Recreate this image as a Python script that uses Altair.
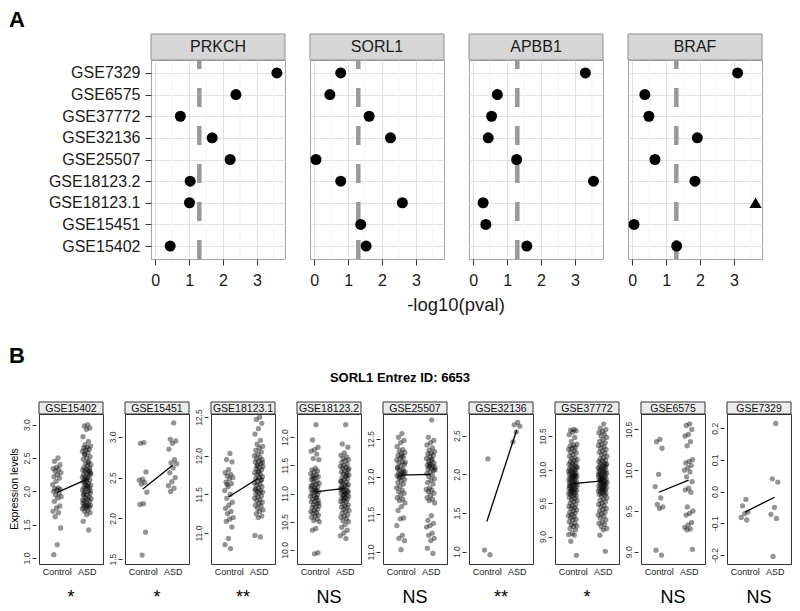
import altair as alt
import pandas as pd

# ---------------- Panel A data ----------------
datasets_a = ["GSE7329", "GSE6575", "GSE37772", "GSE32136", "GSE25507",
              "GSE18123.2", "GSE18123.1", "GSE15451", "GSE15402"]
genes_a = ["PRKCH", "SORL1", "APBB1", "BRAF"]
prkch = [3.59, 2.38, 0.74, 1.68, 2.21, 1.03, 1.01, None, 0.44]
sorl1 = [0.78, 0.46, 1.62, 2.25, 0.05, 0.78, 2.60, 1.37, 1.53]
apbb1 = [3.31, 0.71, 0.54, 0.44, 1.28, 3.55, 0.29, 0.37, 1.58]
braf = [3.11, 0.37, 0.49, 1.92, 0.67, 1.85, None, 0.05, 1.31]
capped_gene = ["BRAF"]
capped_dataset = ["GSE18123.1"]
capped_value = [3.64]
threshold = [1.3]
major_breaks = [0, 1, 2, 3]
minor_breaks = [0.5, 1.5, 2.5, 3.5]
x_title_a = "-log10(pval)"

# ---------------- Panel B data ----------------
b_title = "SORL1 Entrez ID: 6653"
b_datasets = ["GSE15402", "GSE15451", "GSE18123.1", "GSE18123.2", "GSE25507",
              "GSE32136", "GSE37772", "GSE6575", "GSE7329"]
b_sig = ["*", "*", "**", "NS", "NS", "**", "*", "NS", "NS"]
b_mean_control = [1.98, 2.36, 11.47, 11.03, 12.02, 1.39, 9.79, 9.73, -0.065]
b_mean_asd = [2.18, 2.65, 11.71, 11.09, 12.03, 2.57, 9.83, 9.88, -0.018]
b_domains = [[0.91, 3.16], [1.44, 3.28], [10.6, 12.54], [9.75, 12.41], [10.84, 12.83],
             [0.84, 2.78], [8.59, 10.83], [8.85, 10.69], [-0.229, 0.245]]
b_ticks = [[1.0, 1.5, 2.0, 2.5, 3.0], [1.5, 2.0, 2.5, 3.0], [11.0, 11.5, 12.0, 12.5],
           [10.0, 10.5, 11.0, 11.5, 12.0], [11.0, 11.5, 12.0, 12.5], [1.0, 1.5, 2.0, 2.5],
           [9.0, 9.5, 10.0, 10.5], [9.0, 9.5, 10.0, 10.5], [-0.2, -0.1, 0.0, 0.1, 0.2]]

gse15402_control = [2.50, 2.45, 2.40, 2.36, 2.34, 2.33, 2.30, 2.28, 2.25, 2.22, 2.20, 2.15, 2.10,
                    2.05, 2.04, 2.03, 2.02, 2.00, 1.97, 1.95, 1.92, 1.90, 1.85, 1.78, 1.75, 1.70,
                    1.68, 1.62, 1.45, 1.20, 1.05]
gse15402_asd = [3.00, 2.98, 2.95, 2.93, 2.82, 2.75, 2.70, 2.68, 2.66, 2.65, 2.63, 2.62, 2.60, 2.58,
                2.55, 2.52, 2.50, 2.48, 2.45, 2.42, 2.40, 2.38, 2.36, 2.35, 2.33, 2.32, 2.30, 2.30,
                2.28, 2.27, 2.25, 2.24, 2.22, 2.21, 2.20, 2.18, 2.17, 2.15, 2.14, 2.12, 2.10, 2.09,
                2.08, 2.06, 2.05, 2.04, 2.02, 2.00, 1.99, 1.97, 1.95, 1.94, 1.92, 1.90, 1.89, 1.88,
                1.86, 1.85, 1.83, 1.82, 1.80, 1.80, 1.79, 1.78, 1.77, 1.76, 1.75, 1.74, 1.72, 1.70,
                1.68, 1.65, 1.55, 1.42, 2.13, 2.26, 2.07, 1.96, 2.31, 2.19, 1.87, 2.43, 2.56, 2.01]
gse15451_control = [2.93, 2.92, 2.57, 2.48, 2.47, 2.44, 2.42, 2.32, 2.18, 2.17, 1.83, 1.55]
gse15451_asd = [3.17, 2.97, 2.95, 2.92, 2.85, 2.72, 2.68, 2.67, 2.62, 2.56, 2.50, 2.45, 2.40,
                2.37, 2.33]
gse18123_1_control = [12.03, 11.95, 11.92, 11.82, 11.78, 11.76, 11.74, 11.72, 11.70, 11.66, 11.64,
                      11.60, 11.55, 11.50, 11.45, 11.40, 11.36, 11.32, 11.28, 11.25, 11.20, 11.18,
                      11.15, 11.08, 10.93, 10.85, 10.80, 11.63]
gse18123_1_asd = [12.50, 12.47, 12.42, 12.35, 12.28, 12.20, 12.15, 12.12, 12.10, 12.07, 12.05,
                  12.02, 12.00, 11.98, 11.96, 11.95, 11.93, 11.92, 11.90, 11.88, 11.86, 11.85,
                  11.83, 11.82, 11.80, 11.78, 11.76, 11.75, 11.73, 11.72, 11.70, 11.68, 11.66,
                  11.65, 11.63, 11.62, 11.60, 11.58, 11.56, 11.55, 11.54, 11.53, 11.52, 11.50,
                  11.48, 11.47, 11.45, 11.43, 11.42, 11.40, 11.38, 11.36, 11.35, 11.32, 11.30,
                  11.28, 11.25, 11.22, 11.20, 10.97, 10.95, 11.87, 11.91, 11.79, 11.57, 11.69]
gse18123_2_control = [12.22, 11.95, 11.82, 11.78, 11.75, 11.70, 11.62, 11.60, 11.45, 11.42, 11.40,
                      11.38, 11.35, 11.33, 11.31, 11.30, 11.28, 11.25, 11.22, 11.20, 11.18, 11.16,
                      11.15, 11.12, 11.10, 11.08, 11.06, 11.05, 11.03, 11.02, 11.00, 10.98, 10.96,
                      10.95, 10.92, 10.90, 10.88, 10.86, 10.85, 10.82, 10.80, 10.78, 10.76, 10.75,
                      10.72, 10.70, 10.68, 10.66, 10.65, 10.62, 10.60, 10.58, 10.55, 10.52, 10.50,
                      10.38, 10.35, 9.95, 9.93, 11.13, 10.93, 11.27, 10.83, 11.07]
gse18123_2_asd = [12.22, 11.88, 11.82, 11.72, 11.68, 11.65, 11.62, 11.60, 11.58, 11.55, 11.52,
                  11.50, 11.48, 11.46, 11.45, 11.42, 11.40, 11.38, 11.36, 11.35, 11.33, 11.30,
                  11.28, 11.26, 11.25, 11.22, 11.20, 11.18, 11.16, 11.15, 11.13, 11.12, 11.10,
                  11.08, 11.06, 11.05, 11.03, 11.02, 11.00, 10.98, 10.97, 10.95, 10.93, 10.92,
                  10.90, 10.88, 10.86, 10.85, 10.82, 10.80, 10.78, 10.76, 10.75, 10.72, 10.70,
                  10.68, 10.65, 10.62, 10.60, 10.58, 10.55, 10.52, 10.50, 10.45, 10.40, 10.35,
                  10.30, 10.25, 10.20, 11.09, 11.04, 10.99, 11.21, 11.32, 10.91, 11.44]
gse25507_control = [12.57, 12.52, 12.48, 12.45, 12.40, 12.36, 12.34, 12.32, 12.30, 12.28, 12.26,
                    12.24, 12.22, 12.20, 12.18, 12.16, 12.14, 12.12, 12.10, 12.08, 12.06, 12.05,
                    12.04, 12.03, 12.02, 12.01, 12.00, 11.98, 11.96, 11.94, 11.92, 11.90, 11.87,
                    11.85, 11.82, 11.80, 11.78, 11.75, 11.72, 11.70, 11.68, 11.65, 11.60, 11.55,
                    11.45, 11.44, 11.35, 11.22, 11.18, 11.15, 11.03, 12.11, 12.07, 11.99, 12.19,
                    12.27]
gse25507_asd = [12.75, 12.52, 12.48, 12.45, 12.42, 12.38, 12.35, 12.33, 12.31, 12.30, 12.28,
                12.26, 12.24, 12.22, 12.20, 12.18, 12.16, 12.15, 12.14, 12.13, 12.12, 12.11,
                12.10, 12.08, 12.06, 12.04, 12.02, 12.00, 11.97, 11.95, 11.92, 11.90, 11.85,
                11.83, 11.82, 11.80, 11.78, 11.75, 11.72, 11.70, 11.68, 11.65, 11.48, 11.42,
                11.38, 11.35, 11.33, 11.25, 11.22, 11.18, 11.15, 11.05, 10.98, 12.17, 12.09, 12.23]
gse32136_control = [2.20, 1.02, 0.96]
gse32136_asd = [2.67, 2.64, 2.62, 2.55, 2.42]
gse37772_control = [10.60, 10.59, 10.58, 10.56, 10.52, 10.48, 10.42, 10.38, 10.36, 10.35, 10.33,
                    10.32, 10.30, 10.28, 10.26, 10.25, 10.22, 10.20, 10.18, 10.16, 10.15, 10.13,
                    10.12, 10.10, 10.09, 10.08, 10.06, 10.05, 10.04, 10.02, 10.01, 10.00, 9.99,
                    9.98, 9.97, 9.96, 9.95, 9.94, 9.93, 9.92, 9.91, 9.90, 9.89, 9.88, 9.87, 9.86,
                    9.85, 9.84, 9.83, 9.82, 9.81, 9.80, 9.79, 9.78, 9.77, 9.76, 9.75, 9.74, 9.73,
                    9.72, 9.71, 9.70, 9.69, 9.68, 9.67, 9.66, 9.65, 9.64, 9.63, 9.62, 9.61, 9.60,
                    9.58, 9.57, 9.55, 9.54, 9.52, 9.50, 9.48, 9.46, 9.45, 9.43, 9.42, 9.40, 9.38,
                    9.36, 9.35, 9.33, 9.31, 9.30, 9.28, 9.26, 9.25, 9.22, 9.20, 9.18, 9.16, 9.15,
                    9.12, 9.10, 9.05, 9.03, 9.02, 8.93, 8.72, 9.89, 9.76, 9.92, 9.69, 10.03]
gse37772_asd = [10.68, 10.62, 10.60, 10.57, 10.55, 10.53, 10.50, 10.48, 10.45, 10.42, 10.40,
                10.38, 10.36, 10.34, 10.32, 10.30, 10.28, 10.26, 10.24, 10.22, 10.20, 10.18,
                10.16, 10.14, 10.13, 10.12, 10.10, 10.09, 10.08, 10.06, 10.05, 10.04, 10.03,
                10.02, 10.01, 10.00, 9.99, 9.98, 9.97, 9.96, 9.95, 9.94, 9.93, 9.92, 9.91, 9.90,
                9.89, 9.88, 9.87, 9.86, 9.85, 9.84, 9.83, 9.82, 9.81, 9.80, 9.79, 9.78, 9.77,
                9.76, 9.75, 9.74, 9.73, 9.72, 9.71, 9.70, 9.69, 9.68, 9.67, 9.66, 9.65, 9.64,
                9.63, 9.62, 9.60, 9.58, 9.56, 9.54, 9.52, 9.50, 9.48, 9.46, 9.44, 9.42, 9.40,
                9.38, 9.36, 9.34, 9.32, 9.30, 9.28, 9.25, 9.22, 9.20, 9.18, 9.15, 9.12, 9.10,
                9.02, 8.78, 9.87, 9.93, 9.79, 9.84, 10.07, 9.71]
gse6575_control = [10.38, 10.35, 10.27, 9.95, 9.80, 9.66, 9.58, 9.55, 9.53, 9.02, 8.96]
gse6575_asd = [10.57, 10.55, 10.50, 10.44, 10.42, 10.35, 10.30, 10.13, 10.11, 10.09, 10.06, 10.03,
               10.00, 9.98, 9.92, 9.86, 9.78, 9.76, 9.73, 9.55, 9.50, 9.47, 9.45, 9.36, 9.33,
               9.30, 9.28, 9.27, 9.03]
gse7329_control = [-0.025, -0.045, -0.065, -0.070, -0.082, -0.090]
gse7329_asd = [0.215, 0.040, 0.030, -0.050, -0.072, -0.085, -0.205]

b_values = [(gse15402_control, gse15402_asd), (gse15451_control, gse15451_asd),
            (gse18123_1_control, gse18123_1_asd), (gse18123_2_control, gse18123_2_asd),
            (gse25507_control, gse25507_asd), (gse32136_control, gse32136_asd),
            (gse37772_control, gse37772_asd), (gse6575_control, gse6575_asd),
            (gse7329_control, gse7329_asd)]

FONT = "Liberation Sans"

# ---------------- Panel A ----------------
WA, HA = 134, 199
x_scale_a = alt.Scale(domain=[-0.127, 3.83], nice=False, zero=False)
y_scale_a = alt.Scale(type="point", domain=datasets_a, padding=0.6)


def panel_a(gene, vals, first, extra=None):
    df = pd.DataFrame({"dataset": datasets_a, "value": vals}).dropna()
    xaxis = alt.Axis(title=None, values=major_breaks, grid=True, gridColor="#e0e0e0",
                     domain=False, tickSize=6, tickColor="#333333", labelFontSize=16,
                     labelColor="#1a1a1a", labelPadding=7)
    yaxis = alt.Axis(title=None, labels=first, ticks=first, domain=False, grid=True,
                     gridColor="#e0e0e0", tickSize=6, tickColor="#333333",
                     labelFontSize=16, labelColor="#1a1a1a", labelPadding=5)
    minor = alt.Chart(pd.DataFrame({"v": minor_breaks})).mark_rule(
        color="#f2f2f2", strokeWidth=1).encode(x=alt.X("v:Q", scale=x_scale_a, axis=xaxis))
    thr = alt.Chart(pd.DataFrame({"t": threshold})).mark_rule(
        color="#999999", strokeWidth=4.5, strokeDash=[19, 19]).encode(
        x=alt.X("t:Q", scale=x_scale_a, axis=xaxis),
        y=alt.value(HA), y2=alt.value(0))
    pts = alt.Chart(df).mark_point(filled=True, shape="circle", size=121, color="black",
                                   opacity=1).encode(
        x=alt.X("value:Q", scale=x_scale_a, axis=xaxis),
        y=alt.Y("dataset:N", scale=y_scale_a, axis=yaxis, sort=datasets_a))
    layers = [minor, thr, pts]
    cdf = pd.DataFrame({"gene": capped_gene, "dataset": capped_dataset, "value": capped_value})
    cdf = cdf[cdf["gene"] == gene]
    if len(cdf):
        layers.append(alt.Chart(cdf).mark_point(filled=True, shape="triangle-up", size=150,
                                                color="black", opacity=1).encode(
            x=alt.X("value:Q", scale=x_scale_a, axis=xaxis),
            y=alt.Y("dataset:N", scale=y_scale_a, axis=yaxis, sort=datasets_a)))
    lab = pd.DataFrame({"label": [gene]})
    layers.append(alt.Chart(lab).mark_rect(fill="#d6d6d6", stroke="#8f8f8f", strokeWidth=1).encode(
        x=alt.value(0), x2=alt.value(WA), y=alt.value(-26), y2=alt.value(0)))
    layers.append(alt.Chart(lab).mark_text(fontSize=16, color="#1a1a1a", baseline="middle").encode(
        x=alt.value(WA / 2), y=alt.value(-13), text="label:N"))
    if extra:
        layers.extend(extra)
    return alt.layer(*layers).properties(width=WA, height=HA)


tag_a = alt.Chart(pd.DataFrame({"t": ["A"]})).mark_text(
    fontSize=22, fontWeight="bold", align="left", baseline="top", color="black").encode(
    x=alt.value(-142), y=alt.value(-50), text="t:N")
xt_a = alt.Chart(pd.DataFrame({"t": [x_title_a]})).mark_text(
    fontSize=18.5, align="center", baseline="alphabetic", color="#1a1a1a").encode(
    x=alt.value(146), y=alt.value(251), text="t:N")

vals_a = [prkch, sorl1, apbb1, braf]
panels_a = []
for k, g in enumerate(genes_a):
    extra = []
    if k == 0:
        extra.append(tag_a)
    if k == 1:
        extra.append(xt_a)
    panels_a.append(panel_a(g, vals_a[k], k == 0, extra))

spacer = alt.Chart(pd.DataFrame({"s": [0]})).mark_point(opacity=0).encode(
    x=alt.value(0), y=alt.value(0)).properties(
    width=87, height=HA, view=alt.ViewBackground(stroke="transparent"))

row_a = alt.hconcat(spacer, *panels_a, spacing=25, bounds="flush")

# ---------------- Panel B ----------------
WB, HB = 64, 150
x_scale_b = alt.Scale(domain=[0.4, 2.55], nice=False, zero=False)


def panel_b(i):
    name = b_datasets[i]
    ctrl, asd = b_values[i]
    df = pd.DataFrame({"group": ["Control"] * len(ctrl) + ["ASD"] * len(asd),
                       "value": ctrl + asd})
    y_scale = alt.Scale(domain=b_domains[i], nice=False, zero=False)
    xaxis = alt.Axis(title=None, values=[1, 2],
                     labelExpr="datum.value == 1 ? 'Control' : 'ASD'",
                     ticks=False, domain=False, grid=False, labelFontSize=9,
                     labelPadding=3, labelColor="#222222")
    yaxis = alt.Axis(title=None, values=b_ticks[i],
                     labelExpr="replace(format(datum.value, '.1f'), '\u2212', '-')",
                     labelAngle=270, labelAlign="center", labelBaseline="bottom",
                     labelFontSize=8.5, tickSize=4, offset=3, domain=False, grid=False,
                     labelPadding=1, tickColor="#333333", labelColor="#333333")
    pts = alt.Chart(df).transform_window(
        rn="row_number()", groupby=["group"]).transform_calculate(
        xj="(datum.group == 'Control' ? 1 : 2) + ((datum.rn * 0.618034) % 1 - 0.5) * 0.3"
    ).mark_circle(size=28, color="black", opacity=0.42).encode(
        x=alt.X("xj:Q", scale=x_scale_b, axis=xaxis),
        y=alt.Y("value:Q", scale=y_scale, axis=yaxis))
    mdf = pd.DataFrame({"x": [1, 2], "m": [b_mean_control[i], b_mean_asd[i]]})
    line = alt.Chart(mdf).mark_line(color="black", strokeWidth=1.3).encode(
        x=alt.X("x:Q", scale=x_scale_b, axis=xaxis),
        y=alt.Y("m:Q", scale=y_scale, axis=yaxis))
    lab = pd.DataFrame({"label": [name], "sig": [b_sig[i]]})
    strip = alt.Chart(lab).mark_rect(fill="#ececec", stroke="#333333", strokeWidth=1).encode(
        x=alt.value(0), x2=alt.value(WB), y=alt.value(-12), y2=alt.value(0))
    strip_t = alt.Chart(lab).mark_text(fontSize=10.5, color="#111111", baseline="middle",
                                       fontWeight="normal").encode(
        x=alt.value(WB / 2), y=alt.value(-5.5), text="label:N")
    sig = alt.Chart(lab).mark_text(fontSize=18, color="black", baseline="alphabetic").encode(
        x=alt.value(WB / 2), y=alt.value(189), text="sig:N")
    layers = [pts, line, strip, strip_t, sig]
    if i == 0:
        layers.append(alt.Chart(pd.DataFrame({"t": ["B"]})).mark_text(
            fontSize=22, fontWeight="bold", align="left", baseline="top", color="black").encode(
            x=alt.value(-30), y=alt.value(-68), text="t:N"))
        layers.append(alt.Chart(pd.DataFrame({"t": ["Expression levels"]})).mark_text(
            fontSize=10.5, angle=270, align="center", baseline="middle", color="black").encode(
            x=alt.value(-24), y=alt.value(HB / 2), text="t:N"))
    if i == 4:
        layers.append(alt.Chart(pd.DataFrame({"t": [b_title]})).mark_text(
            fontSize=13, fontWeight="bold", align="center", baseline="middle",
            color="black").encode(x=alt.value(17), y=alt.value(-36), text="t:N"))
    return alt.layer(*layers).properties(
        width=WB, height=HB, view=alt.ViewBackground(stroke="#333333", strokeWidth=1))


row_b = alt.hconcat(*[panel_b(i) for i in range(len(b_datasets))], spacing=22, bounds="flush")

chart = alt.vconcat(row_a, row_b, spacing=29).properties(padding=0).configure(
    font=FONT).configure_view(stroke="#a6a6a6", strokeWidth=1)

chart.save("out.html", embed_options={"renderer": "svg", "actions": False})
